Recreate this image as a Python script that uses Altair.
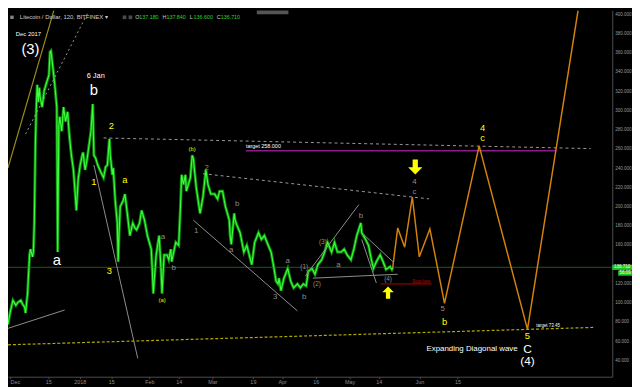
import altair as alt
import pandas as pd

FONT = "Liberation Sans"

# ---------------- data ----------------
# Litecoin price path, day = days since 1 Dec 2017, usd = price
price_day = [-0.9, 0.0, 1.3, 2.6, 3.5, 4.8, 5.6, 6.5, 6.9, 7.8, 8.7, 9.1, 10.0, 10.4, 10.8, 11.3, 11.7, 12.1,
             12.6, 13.0, 13.4, 14.3, 15.2, 16.5, 17.3, 17.8, 18.2, 19.1, 19.9, 20.8, 21.2, 21.7, 22.1, 23.0,
             23.8, 24.7, 25.6, 26.4, 27.3, 28.2, 29.0, 29.5, 30.3, 31.2, 32.1, 32.5, 33.4, 34.2, 35.1, 36.0,
             36.8, 37.3, 38.1, 39.0, 40.3, 41.6, 42.5, 43.3, 44.2, 44.6, 45.5, 45.9, 46.8, 47.7, 48.1, 48.5,
             49.0, 50.3, 51.1, 52.0, 53.3, 54.6, 55.5, 56.3, 57.6, 58.5, 59.8, 61.1, 62.8, 63.3, 63.7, 64.6,
             65.0, 66.3, 67.2, 67.6, 68.5, 69.8, 70.6, 71.5, 71.9, 73.7, 75.0, 75.8, 76.3, 77.1, 78.0, 78.4,
             79.3, 80.2, 81.0, 81.5, 82.8, 84.5, 85.8, 87.1, 88.0, 89.3, 91.0, 92.3, 93.2, 94.5, 95.8, 97.5,
             97.9, 98.4, 99.7, 100.1, 101.0, 102.3, 104.0, 105.3, 106.6, 107.5, 108.8, 110.5, 111.8, 113.1,
             114.8, 116.1, 117.4, 118.3, 119.2, 119.6, 120.5, 121.8, 123.5, 124.8, 126.1, 127.8, 129.1, 130.4,
             131.7, 132.6, 134.3, 135.6, 136.9, 138.6, 139.9, 141.2, 143.0, 144.3, 145.6, 147.3, 148.6, 149.9,
             151.6, 152.9, 154.2, 156.0, 156.4, 158.1, 159.4, 160.7, 161.6, 162.9, 164.6, 165.9, 167.2, 169.0,
             169.8, 170.2]
price_usd = [77.2, 89.2, 102.3, 97.3, 100.3, 102.3, 98.3, 95.3, 89.2, 109.4, 149.6, 155.6, 147.6, 152.6, 182.8,
             266.2, 303.4, 326.6, 308.5, 323.6, 313.5, 303.4, 320.5, 330.6, 336.6, 360.8, 361.8, 343.7, 326.6,
             303.4, 152.6, 283.3, 293.4, 278.3, 303.4, 288.4, 298.4, 273.3, 253.2, 238.1, 212.9, 195.8, 228.0,
             243.1, 253.2, 256.2, 238.1, 248.1, 263.2, 278.3, 306.5, 253.2, 250.1, 243.1, 236.1, 230.0, 241.1,
             243.1, 270.3, 253.2, 233.0, 240.1, 205.9, 182.8, 142.5, 172.7, 199.9, 205.9, 212.9, 195.8, 169.7,
             182.8, 177.7, 175.7, 182.8, 195.8, 185.8, 169.7, 155.6, 132.5, 109.4, 137.5, 149.6, 169.7, 132.5,
             109.4, 149.6, 149.6, 144.6, 155.6, 142.5, 162.7, 159.6, 199.9, 233.0, 223.0, 233.0, 215.9, 223.0,
             230.0, 253.2, 250.1, 220.0, 192.8, 209.9, 238.1, 223.0, 212.9, 212.9, 207.9, 215.9, 215.9, 199.9,
             185.8, 169.7, 160.6, 192.8, 185.8, 179.8, 172.7, 152.6, 159.6, 147.6, 139.5, 162.7, 172.7, 165.7,
             169.7, 159.6, 152.6, 135.5, 122.4, 119.4, 125.4, 112.4, 125.4, 135.5, 122.4, 115.4, 119.4, 115.4,
             119.4, 117.4, 132.5, 135.5, 129.5, 139.5, 144.6, 152.6, 162.7, 152.6, 162.7, 152.6, 152.6, 155.6,
             149.6, 144.6, 155.6, 169.7, 182.8, 172.7, 165.7, 159.6, 144.6, 135.5, 142.5, 149.6, 142.5, 134.5,
             137.5, 134.5, 136.7]
last_price = 136.71

# projected path (orange)
proj_day = [170.2, 172.4, 175.5, 178.9, 182.0, 186.7, 193.2, 208.6, 230.1, 252.6]
proj_usd = [136.7, 177.7, 157.6, 209.9, 147.6, 176.7, 99.3, 263.0, 72.2, 404.0]

# axis ticks (the 140 label sits under the last-price tag)
x_tick_days = [0, 17, 31, 45, 62, 75, 90, 108, 121, 136, 151, 164, 182, 199]
x_tick_labels = ["Dec", "15", "2018", "15", "Feb", "14", "Mar", "19", "Apr", "16", "May", "14", "Jun", "15"]
y_ticks = [40, 60, 80, 100, 120, 160, 180, 200, 220, 240, 260, 280, 300, 320, 340, 360, 380, 400]

# trend lines: start day, start usd, end day, end usd
gray_d0 = [-0.9, 37.3, 81.5, 131.3, 134.7, 157.3, 156.4]
gray_p0 = [73.2, 243.1, 185.8, 127.5, 125.4, 170.7, 165.7]
gray_d1 = [24.3, 56.8, 127.8, 155.1, 172.4, 170.3, 162.9]
gray_p1 = [92.3, 42.0, 91.3, 201.9, 129.5, 142.5, 120.4]

dash_d0 = [41.6, 85.8]
dash_p0 = [271.3, 234.1]
dash_d1 = [258.2, 186.3]
dash_p1 = [260.2, 207.9]

olive_seg = [-0.9, 240.1, 19.5, 404.0]
dotted_seg = [6.9, 275.3, 34.7, 402.0]
yellow_dash_seg = [-0.9, 56.1, 260.0, 74.2]
target_hi = 258.0
target_hi_span = [104.9, 242.6]
stop_loss = 119.4
stop_span = [164.6, 187.6]

# labels
white_big_txt = ["(3)", "b", "a"]
white_big_day = [9.1, 37.3, 20.8]
white_big_usd = [363.8, 321.5, 144.6]

white_mid_txt = ["C", "(4)"]
white_mid_day = [230.1, 230.1]
white_mid_usd = [52.0, 39.0]

yellow_txt = ["2", "1", "a", "3", "4", "c", "b", "5"]
yellow_day = [45.1, 37.3, 51.1, 44.2, 210.1, 210.1, 193.2, 230.1]
yellow_usd = [283.3, 225.0, 228.0, 132.5, 282.0, 271.5, 80.2, 65.1]

yellow_small_txt = ["(b)", "(a)"]
yellow_small_day = [81.0, 67.6]
yellow_small_usd = [260.2, 102.3]

gray_txt = ["2", "b", "1", "a", "b", "a", "a", "3", "b", "a", "b", "4", "c", "5"]
gray_day = [87.5, 101.0, 82.8, 68.0, 72.8, 98.4, 123.5, 117.9, 130.8, 146.0, 156.0, 179.8, 179.8, 192.4]
gray_usd = [240.1, 202.9, 174.7, 167.7, 135.5, 154.6, 143.6, 105.3, 106.3, 139.5, 189.8, 225.5, 215.5, 93.3]

gray_small_txt = ["(1)", "(3)", "(2)", "(4)"]
gray_small_day = [130.8, 139.1, 136.5, 168.1]
gray_small_usd = [136.5, 162.7, 119.4, 124.4]

# ---------------- chart ----------------
W, H = 612, 371
X = alt.Scale(domain=[-0.9, 267.8], nice=False, zero=False)
Y = alt.Scale(domain=[22.9, 404.0], nice=False, zero=False)

label_expr = ("[" + ",".join("'%s'" % l for l in x_tick_labels) + "][indexof(["
              + ",".join(str(v) for v in x_tick_days) + "], datum.value)]")

x_axis = alt.Axis(values=x_tick_days, labelExpr=label_expr, title=None, grid=False,
                  labelFontSize=5.5, labelColor="#8c8c8c", labelFont=FONT,
                  domainColor="#4d4d4d", tickColor="#4d4d4d", tickSize=2,
                  labelPadding=1, labelOverlap=False, labelFlush=6)
y_axis = alt.Axis(orient="right", values=y_ticks, format=".3f", title=None, grid=False,
                  labelFontSize=4.6, labelColor="#9a9a9a", labelFont=FONT,
                  domainColor="#4d4d4d", ticks=False, labelPadding=2.5, labelOverlap=False)


def xq(field):
    return alt.X(field, type="quantitative", scale=X, axis=x_axis)


def yq(field):
    return alt.Y(field, type="quantitative", scale=Y, axis=y_axis)


def seg_layer(d0, p0, d1, p1, **mk):
    df = pd.DataFrame({"d0": d0, "p0": p0, "d1": d1, "p1": p1})
    return alt.Chart(df).mark_rule(clip=True, **mk).encode(
        x=xq("d0"), y=yq("p0"), x2="d1:Q", y2="p1:Q")


def text_layer(txt, day, usd, align="center", **mk):
    df = pd.DataFrame({"t": txt, "d": day, "p": usd})
    return alt.Chart(df).mark_text(font=FONT, align=align, baseline="middle", **mk).encode(
        x=xq("d"), y=yq("p"), text="t:N")


price_df = pd.DataFrame({"day": price_day, "usd": price_usd, "i": list(range(len(price_day)))})
proj_df = pd.DataFrame({"day": proj_day, "usd": proj_usd, "i": list(range(len(proj_day)))})

price_glow = alt.Chart(price_df).mark_line(color="#0d8f0d", strokeWidth=3.0, clip=True).encode(
    x=xq("day"), y=yq("usd"), order="i:Q")
price_core = alt.Chart(price_df).mark_line(color="#3dff3d", strokeWidth=1.1, clip=True).encode(
    x=xq("day"), y=yq("usd"), order="i:Q")

cur_line = alt.Chart(pd.DataFrame({"p": [last_price]})).mark_rule(
    color="#1d5a1d", strokeWidth=1, clip=True).encode(y=yq("p"))

layers = [
    price_glow,
    cur_line,
    seg_layer([yellow_dash_seg[0]], [yellow_dash_seg[1]], [yellow_dash_seg[2]], [yellow_dash_seg[3]],
              color="#b3aa00", strokeWidth=1.2, strokeDash=[3, 2]),
    seg_layer(dash_d0, dash_p0, dash_d1, dash_p1, color="#9a9a9a", strokeWidth=1, strokeDash=[3, 3]),
    seg_layer([dotted_seg[0]], [dotted_seg[1]], [dotted_seg[2]], [dotted_seg[3]],
              color="#9a9a9a", strokeWidth=1, strokeDash=[2, 3]),
    seg_layer([olive_seg[0]], [olive_seg[1]], [olive_seg[2]], [olive_seg[3]],
              color="#9b8c1c", strokeWidth=1.2),
    seg_layer([target_hi_span[0]], [target_hi], [target_hi_span[1]], [target_hi],
              color="#8b1a8b", strokeWidth=1.5),
    seg_layer([stop_span[0]], [stop_loss], [stop_span[1]], [stop_loss], color="#b00000", strokeWidth=1),
    price_core,
    seg_layer(gray_d0, gray_p0, gray_d1, gray_p1, color="#8e8e8e", strokeWidth=1),
    alt.Chart(proj_df).mark_line(color="#d4820a", strokeWidth=1.5, clip=True).encode(
        x=xq("day"), y=yq("usd"), order="i:Q"),
    text_layer(white_big_txt, white_big_day, white_big_usd, color="#ffffff", fontSize=15),
    text_layer(white_mid_txt, white_mid_day, white_mid_usd, color="#ffffff", fontSize=12),
    text_layer(["Dec 2017"], [8.2], [378.9], color="#ffffff", fontSize=6),
    text_layer(["6 Jan"], [38.1], [335.6], color="#ffffff", fontSize=7.5),
    text_layer(["Expanding Diagonal wave"], [225.7], [52.0], align="right", color="#ffffff", fontSize=8),
    text_layer(["target 258.000"], [104.9], [263.2], align="left", color="#ffffff", fontSize=5.5),
    text_layer(["target 73.45"], [234.0], [75.2], align="left", color="#ffffff", fontSize=4.5),
    text_layer(["Stop loss"], [182.8], [121.4], color="#d00000", fontSize=4.5),
    text_layer(yellow_txt, yellow_day, yellow_usd, color="#ffff00", fontSize=9.5),
    text_layer(yellow_small_txt, yellow_small_day, yellow_small_usd, color="#e6e600", fontSize=6),
    text_layer(gray_txt, gray_day, gray_usd, color="#8c8c8c", fontSize=8),
    text_layer(gray_small_txt, gray_small_day, gray_small_usd, color="#8c8c8c", fontSize=6.5),
]

# yellow arrows
down_path = "M-0.35,-1L0.35,-1L0.35,0.05L0.95,0.05L0,1L-0.95,0.05L-0.35,0.05Z"
up_path = "M-0.35,1L0.35,1L0.35,-0.05L0.95,-0.05L0,-1L-0.95,-0.05L-0.35,-0.05Z"
layers.append(alt.Chart(pd.DataFrame({"d": [180.2], "p": [241.1]})).mark_point(
    shape=down_path, filled=True, color="#ffff00", size=230, opacity=1).encode(x=xq("d"), y=yq("p")))
layers.append(alt.Chart(pd.DataFrame({"d": [168.1], "p": [110.4]})).mark_point(
    shape=up_path, filled=True, color="#ffff00", size=150, opacity=1).encode(x=xq("d"), y=yq("p")))

# price tags on the right axis
tag_df = pd.DataFrame({"hi": [last_price + 2.7], "lo": [last_price - 2.7], "m": [last_price], "t": ["136.710"]})
layers.append(alt.Chart(tag_df).mark_rect(color="#1fc81f").encode(
    x=alt.value(W), x2=alt.value(W + 20), y=yq("hi"), y2="lo:Q"))
layers.append(alt.Chart(tag_df).mark_text(font=FONT, fontSize=4.6, color="#ffffff").encode(
    x=alt.value(W + 10), y=yq("m"), text="t:N"))
tag2_df = pd.DataFrame({"hi": [133.4], "lo": [128.0], "m": [130.7], "t": ["56:09"]})
layers.append(alt.Chart(tag2_df).mark_rect(color="#1fc81f").encode(
    x=alt.value(W + 6), x2=alt.value(W + 20), y=yq("hi"), y2="lo:Q"))
layers.append(alt.Chart(tag2_df).mark_text(font=FONT, fontSize=4.6, color="#ffffff").encode(
    x=alt.value(W + 13), y=yq("m"), text="t:N"))

# header (platform chrome)
hdr = pd.DataFrame({"t": ["Litecoin / Dollar, 120, BITFINEX \u25be"]})
layers.append(alt.Chart(hdr).mark_text(font=FONT, fontSize=6, color="#cfcfcf", align="left",
                                       baseline="middle").encode(x=alt.value(12), y=alt.value(7), text="t:N"))
ohlc_letters = ["O", "H", "L", "C"]
ohlc_values = ["137.180", "137.840", "136.600", "136.710"]
for k in range(4):
    layers.append(alt.Chart(pd.DataFrame({"t": [ohlc_letters[k]]})).mark_text(
        font=FONT, fontSize=5.4, color="#cfcfcf", align="left", baseline="middle").encode(
        x=alt.value(129 + 27.5 * k), y=alt.value(7), text="t:N"))
    layers.append(alt.Chart(pd.DataFrame({"t": [ohlc_values[k]]})).mark_text(
        font=FONT, fontSize=5.4, color="#2fd22f", align="left", baseline="middle").encode(
        x=alt.value(133 + 27.5 * k), y=alt.value(7), text="t:N"))
layers.append(alt.Chart(pd.DataFrame({"k": [0]})).mark_square(color="#bdbdbd", size=12).encode(
    x=alt.value(4), y=alt.value(7)))
layers.append(alt.Chart(pd.DataFrame({"k": [0]})).mark_square(color="#6a6a6a", size=14).encode(
    x=alt.value(118), y=alt.value(7)))
layers.append(alt.Chart(pd.DataFrame({"k": [0]})).mark_square(color="#6a6a6a", size=14).encode(
    x=alt.value(124), y=alt.value(7)))
layers.append(alt.Chart(pd.DataFrame({"k": [0]})).mark_rect(color="#555555").encode(
    x=alt.value(252), x2=alt.value(284), y=alt.value(0), y2=alt.value(4)))

chart = alt.layer(*layers).properties(
    width=W, height=H, background="#000000",
    padding={"left": 0, "top": 0, "right": 20, "bottom": 8},
    autosize=alt.AutoSizeParams(type="none"),
).configure_view(stroke=None)

chart.save("out.html", embed_options={"renderer": "svg", "actions": False})
